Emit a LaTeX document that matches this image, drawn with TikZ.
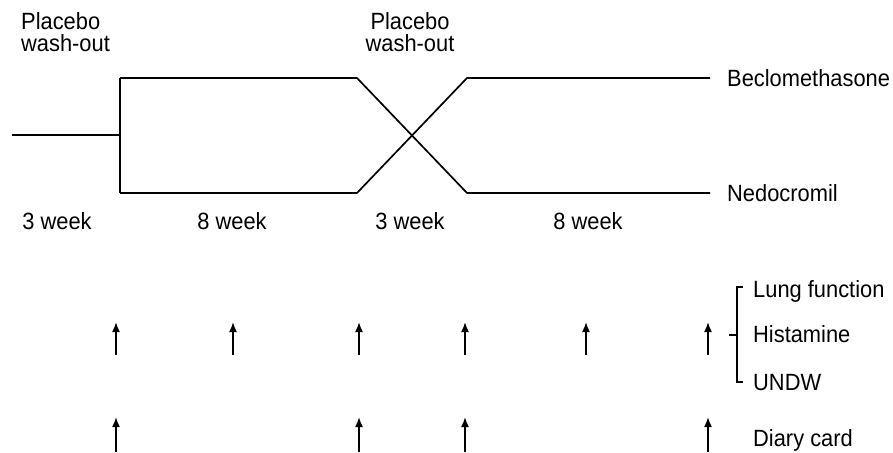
\documentclass[tikz,border=0pt]{standalone}
\usepackage{fontspec}
\usepackage{graphicx}
\setmainfont{Liberation Sans}
\usetikzlibrary{arrows.meta}
% slightly narrowed text
\newcommand{\nt}[1]{\scalebox{0.93}[1]{#1}}
\begin{document}
\begin{tikzpicture}[x=1pt,y=-1pt,
  arm/.style={line width=1.7pt,line join=miter},
  lbl/.style={font=\fontsize{23.5}{22}\selectfont,inner sep=0pt},
  visit/.style={line width=1.7pt,-{Latex[length=10pt,width=8pt]}},
  brk/.style={line width=1.3pt}]
\useasboundingbox (0,0) rectangle (893,452);
% arms of the crossover
\coordinate (s0) at (12,135);
\coordinate (s1) at (120,135);
\coordinate (ut) at (120,78);
\coordinate (ub) at (120,193);
\coordinate (xt) at (357,78);
\coordinate (xb) at (357,193);
\coordinate (yt) at (467,78);
\coordinate (yb) at (467,193);
\coordinate (et) at (710,78);
\coordinate (eb) at (710,193);
\draw[arm] (s0) -- (s1);
\draw[arm] (ut) -- (ub);
\draw[arm] (ut) -- (xt) -- (yb) -- (eb);
\draw[arm] (ub) -- (xb) -- (yt) -- (et);
% phase labels
\node[lbl,anchor=base west,align=left] (pw1) at (21,52) {\nt{Placebo}\\\nt{wash-out}};
\node[lbl,anchor=base,align=center] (pw2) at (410,52) {\nt{Placebo}\\\nt{wash-out}};
\node[lbl,anchor=base west] (beclo) at (727,86) {\nt{Beclomethasone}};
\node[lbl,anchor=base west] (nedo) at (727,201) {\nt{Nedocromil}};
\node[lbl,anchor=base] (w1) at (57,229) {\nt{3 week}};
\node[lbl,anchor=base] (w2) at (232,229) {\nt{8 week}};
\node[lbl,anchor=base] (w3) at (410,229) {\nt{3 week}};
\node[lbl,anchor=base] (w4) at (588,229) {\nt{8 week}};
% measurement visits
\foreach \i/\x in {1/116,2/233,3/359,4/465,5/586,6/708}{
  \coordinate (lb\i) at (\x,355);
  \coordinate (lt\i) at (\x,322);
  \draw[visit] (lb\i) -- (lt\i);
}
\foreach \i/\x in {1/116,3/359,4/465,6/708}{
  \coordinate (db\i) at (\x,452);
  \coordinate (dt\i) at (\x,417);
  \draw[visit] (db\i) -- (dt\i);
}
% bracket grouping the lung measurements
\coordinate (b1) at (743,287);
\coordinate (b2) at (737,287);
\coordinate (b3) at (737,382);
\coordinate (b4) at (743,382);
\coordinate (bm) at (737,335);
\coordinate (bt) at (729,335);
\draw[brk] (b1) -- (b2) -- (b3) -- (b4);
\draw[brk] (bm) -- (bt);
\node[lbl,anchor=base west] (lung) at (753,297) {\nt{Lung function}};
\node[lbl,anchor=base west] (hist) at (753,342) {\nt{Histamine}};
\node[lbl,anchor=base west] (undw) at (753,390) {\nt{UNDW}};
\node[lbl,anchor=base west] (diary) at (753,446) {\nt{Diary card}};
\end{tikzpicture}
\end{document}
